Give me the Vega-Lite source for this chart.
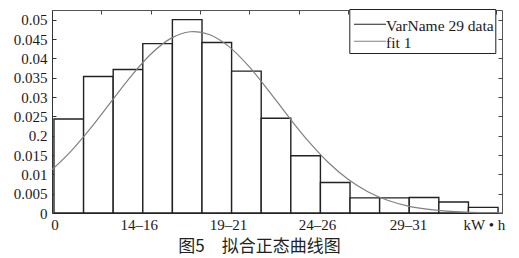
{
  "$schema": "https://vega.github.io/schema/vega-lite/v6.json",
  "width": 450,
  "height": 203,
  "autosize": {"type": "none"},
  "padding": {"left": 52, "top": 10, "right": 17, "bottom": 45},
  "background": "white",
  "config": {"view": {"stroke": null}, "font": "'Liberation Serif', 'Times New Roman', 'DejaVu Serif', serif"},
  "datasets": {
    "bars": [
      {"start": 0.2, "end": 3.2, "density": 0.0243, "series": "VarName 29 data"},
      {"start": 3.2, "end": 6.2, "density": 0.0353, "series": "VarName 29 data"},
      {"start": 6.2, "end": 9.2, "density": 0.0371, "series": "VarName 29 data"},
      {"start": 9.2, "end": 12.2, "density": 0.0438, "series": "VarName 29 data"},
      {"start": 12.2, "end": 15.2, "density": 0.05, "series": "VarName 29 data"},
      {"start": 15.2, "end": 18.2, "density": 0.0441, "series": "VarName 29 data"},
      {"start": 18.2, "end": 21.2, "density": 0.0367, "series": "VarName 29 data"},
      {"start": 21.2, "end": 24.2, "density": 0.0245, "series": "VarName 29 data"},
      {"start": 24.2, "end": 27.2, "density": 0.0148, "series": "VarName 29 data"},
      {"start": 27.2, "end": 30.2, "density": 0.0079, "series": "VarName 29 data"},
      {"start": 30.2, "end": 33.2, "density": 0.0039, "series": "VarName 29 data"},
      {"start": 33.2, "end": 36.2, "density": 0.0039, "series": "VarName 29 data"},
      {"start": 36.2, "end": 39.2, "density": 0.004, "series": "VarName 29 data"},
      {"start": 39.2, "end": 42.2, "density": 0.00285, "series": "VarName 29 data"},
      {"start": 42.2, "end": 45.2, "density": 0.00145, "series": "VarName 29 data"}
    ],
    "fit": [
      {"x": 0, "y": 0.01117, "series": "fit 1"},
      {"x": 2, "y": 0.0162, "series": "fit 1"},
      {"x": 4, "y": 0.0222, "series": "fit 1"},
      {"x": 6, "y": 0.0288, "series": "fit 1"},
      {"x": 8, "y": 0.03535, "series": "fit 1"},
      {"x": 10, "y": 0.04105, "series": "fit 1"},
      {"x": 12, "y": 0.0451, "series": "fit 1"},
      {"x": 14, "y": 0.04688, "series": "fit 1"},
      {"x": 14.4, "y": 0.04693, "series": "fit 1"},
      {"x": 16, "y": 0.0461, "series": "fit 1"},
      {"x": 18, "y": 0.0429, "series": "fit 1"},
      {"x": 20, "y": 0.03777, "series": "fit 1"},
      {"x": 22, "y": 0.03147, "series": "fit 1"},
      {"x": 24, "y": 0.0248, "series": "fit 1"},
      {"x": 26, "y": 0.0185, "series": "fit 1"},
      {"x": 28, "y": 0.01305, "series": "fit 1"},
      {"x": 30, "y": 0.00871, "series": "fit 1"},
      {"x": 32, "y": 0.0055, "series": "fit 1"},
      {"x": 34, "y": 0.00329, "series": "fit 1"},
      {"x": 36, "y": 0.00186, "series": "fit 1"},
      {"x": 38, "y": 0.00099, "series": "fit 1"},
      {"x": 40, "y": 0.0005, "series": "fit 1"},
      {"x": 42, "y": 0.00024, "series": "fit 1"},
      {"x": 44, "y": 0.00011, "series": "fit 1"},
      {"x": 45.6, "y": 0.00006, "series": "fit 1"}
    ]
  },
  "title": {
    "text": "图5　拟合正态曲线图",
    "orient": "bottom",
    "anchor": "middle",
    "font": "Noto Sans CJK SC",
    "fontSize": 17,
    "fontWeight": "normal",
    "color": "#231f20",
    "offset": 7,
    "dx": -17.5
  },
  "resolve": {"axis": {"x": "independent", "y": "independent"}},
  "layer": [
    {
      "data": {"name": "bars"},
      "mark": {"type": "rect", "fill": "white", "strokeWidth": 1.4},
      "encoding": {
        "x": {
          "field": "start",
          "type": "quantitative",
          "scale": {"domain": [0, 45.6], "nice": false, "zero": false},
          "axis": {
            "orient": "bottom",
            "values": [0.25, 8.8, 17.84, 26.85, 36.08, 43.76],
            "labelExpr": "datum.value < 1 ? '0' : datum.value < 10 ? '14–16' : datum.value < 20 ? '19–21' : datum.value < 30 ? '24–26' : datum.value < 40 ? '29–31' : 'kW • h'",
            "ticks": false,
            "grid": false,
            "title": null,
            "domainColor": "#333333",
            "domainWidth": 1,
            "labelFont": "'Liberation Serif', 'Times New Roman', 'DejaVu Serif', serif",
            "labelFontSize": 15,
            "labelColor": "#1a1a1a",
            "labelPadding": 4,
            "labelFlush": false,
            "labelOverlap": false,
            "labelBaseline": "top"
          }
        },
        "x2": {"field": "end"},
        "y": {
          "field": "density",
          "type": "quantitative",
          "scale": {"domain": [0, 0.0525], "nice": false},
          "axis": {
            "orient": "left",
            "values": [0, 0.005, 0.01, 0.015, 0.02, 0.025, 0.03, 0.035, 0.04, 0.045, 0.05],
            "labelExpr": "abs(datum.value - 0.02) < 1e-9 ? '0.2' : format(datum.value, '~g')",
            "tickSize": -4,
            "tickColor": "#333333",
            "domainColor": "#333333",
            "grid": false,
            "title": null,
            "labelFont": "'Liberation Serif', 'Times New Roman', 'DejaVu Serif', serif",
            "labelFontSize": 15,
            "labelColor": "#1a1a1a",
            "labelPadding": 9,
            "labelOverlap": false,
            "labelFlush": false
          }
        },
        "y2": {"datum": 0},
        "stroke": {
          "field": "series",
          "type": "nominal",
          "scale": {"domain": ["VarName 29 data", "fit 1"], "range": ["#222222", "#808080"]},
          "legend": {
            "orient": "none",
            "legendX": 297.3,
            "legendY": -1,
            "title": " ",
            "titleFontSize": 1,
            "titlePadding": 7.5,
            "symbolType": "M-4,-0.5H4",
            "symbolSize": 64,
            "symbolStrokeWidth": 1.2,
            "symbolFillColor": "transparent",
            "symbolOffset": 11.95,
            "labelOffset": 8.25,
            "labelFont": "'Liberation Serif', 'Times New Roman', 'DejaVu Serif', serif",
            "labelFontSize": 15.5,
            "labelColor": "#1a1a1a",
            "labelLimit": 0,
            "clipHeight": 15.5,
            "padding": 1,
            "rowPadding": 0,
            "strokeColor": "#222222",
            "fillColor": "white",
            "direction": "vertical"
          }
        }
      }
    },
    {
      "data": {"name": "fit"},
      "mark": {"type": "line", "strokeWidth": 1.2, "interpolate": "monotone"},
      "encoding": {
        "x": {
          "field": "x",
          "type": "quantitative",
          "axis": {
            "orient": "top",
            "values": [0, 5, 10, 15, 20, 25, 30, 35, 40, 45],
            "labels": false,
            "tickSize": -4,
            "tickColor": "#444444",
            "domainColor": "#555555",
            "grid": false,
            "title": null
          }
        },
        "y": {
          "field": "y",
          "type": "quantitative",
          "axis": {
            "orient": "right",
            "values": [0, 0.005, 0.01, 0.015, 0.02, 0.025, 0.03, 0.035, 0.04, 0.045, 0.05],
            "labels": false,
            "tickSize": -4,
            "tickColor": "#444444",
            "domainColor": "#555555",
            "grid": false,
            "title": null
          }
        },
        "stroke": {"field": "series", "type": "nominal"}
      }
    }
  ]
}
